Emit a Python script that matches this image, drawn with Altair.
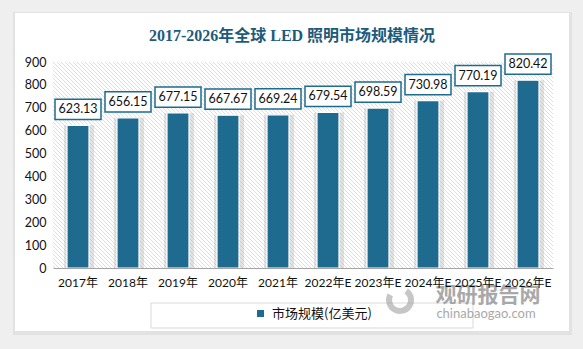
import altair as alt
import pandas as pd

# Global LED lighting market size, 2017-2026 (E = estimate), in 100 million USD
years = ["2017年", "2018年", "2019年", "2020年", "2021年",
         "2022年E", "2023年E", "2024年E", "2025年E", "2026年E"]
values = [623.13, 656.15, 677.15, 667.67, 669.24,
          679.54, 698.59, 730.98, 770.19, 820.42]
series_name = "市场规模(亿美元)"
title_text = "2017-2026年全球 LED 照明市场规模情况"

BAR = "#1f6b8f"
TITLE_COLOR = "#1d5b7b"
FONT = "Lato, Noto Sans CJK SC, sans-serif"
CJK = "Noto Sans CJK SC"

W, H = 500, 206  # plot area

df = pd.DataFrame({"year": years, "value": values, "series": series_name})

x_enc = alt.X("year:N", sort=None,
              scale=alt.Scale(paddingInner=0, paddingOuter=0),
              axis=alt.Axis(title=None, labelAngle=0, ticks=False, zindex=1,
                            domainColor="#a6a6a6", domainWidth=1,
                            labelFont=FONT, labelFontSize=12, labelColor="#111111",
                            labelPadding=9, labelOverlap=False, labelBound=False,
                            labelLimit=0))
y_enc = alt.Y("value:Q",
              scale=alt.Scale(domain=[0, 900], nice=False),
              axis=alt.Axis(title=None, values=list(range(0, 901, 100)), zindex=1,
                            grid=False, domain=False, ticks=False,
                            labelFont=FONT, labelFontSize=12.5, labelColor="#111111",
                            labelPadding=7))

one = pd.DataFrame({"k": [0]})

# page background card and its soft shadow
shadow_card = alt.Chart(one).mark_rect(color="#d9d9d9", opacity=0.6).encode(
    x=alt.value(-40), x2=alt.value(519), y=alt.value(-50), y2=alt.value(273))
card = alt.Chart(one).mark_rect(color="white").encode(
    x=alt.value(-38), x2=alt.value(516), y=alt.value(-49), y2=alt.value(269))

# diagonal hatch filling the plot area
step = 4
hatch_df = pd.DataFrame({"hx": [k * step for k in range(-H // step - 2, W // step + 2)]})
hatch_df["hx2"] = hatch_df["hx"] + H
hatch = alt.Chart(hatch_df).mark_rule(color="#dedede", strokeWidth=1, clip=True).encode(
    x=alt.X("hx:Q", scale=None, axis=None), x2="hx2:Q",
    y=alt.value(0), y2=alt.value(H))

# soft shadow behind each bar
bar_shadow = alt.Chart(df).mark_bar(width=30, color="#9a9a9a", opacity=0.28, xOffset=1).encode(
    x=x_enc, y=y_enc)

bars = alt.Chart(df).mark_bar(width=22, stroke="white", strokeWidth=1.2).encode(
    x=x_enc, y=y_enc,
    color=alt.Color("series:N", scale=alt.Scale(range=[BAR]),
                    legend=alt.Legend(title=None, orient="none",
                                      legendX=201, legendY=245, zindex=1,
                                      symbolType="square", symbolSize=49,
                                      symbolStrokeWidth=0,
                                      labelFont=CJK, labelFontSize=13,
                                      labelColor="#111111", labelOffset=5,
                                      padding=0)))

box_shape = "M-1,-0.44H1V0.44H-1Z"
label_box = alt.Chart(df).mark_point(shape=box_shape, size=46 * 46, filled=True,
                                     fill="white", stroke=BAR, strokeWidth=1.5,
                                     opacity=1, yOffset=-16).encode(
    x=x_enc, y=y_enc)
label_text = alt.Chart(df).mark_text(font=FONT, fontSize=12.5, color="#111111",
                                     baseline="middle", yOffset=-16).encode(
    x=x_enc, y=y_enc, text=alt.Text("value:Q", format=".2f"))

title = alt.Chart(one).mark_text(text=title_text,
                                 font="Liberation Serif, Noto Sans CJK SC",
                                 fontSize=16, fontWeight="bold", color=TITLE_COLOR,
                                 baseline="middle").encode(
    x=alt.value(239), y=alt.value(-26))

legend_frame = alt.Chart(one).mark_rect(fill="white", stroke="#d9d9d9",
                                        strokeWidth=1).encode(
    x=alt.value(98), x2=alt.value(420), y=alt.value(241), y2=alt.value(266))

wm_cn = alt.Chart(one).mark_text(text="观研报告网", font=CJK, fontSize=21,
                                 fontWeight="bold", color="#8c8c8c", opacity=0.75,
                                 baseline="middle").encode(
    x=alt.value(435), y=alt.value(234))
wm_en = alt.Chart(one).mark_text(text="chinabaogao.com", font=FONT, fontSize=13,
                                 color="#8c8c8c", opacity=0.75,
                                 baseline="middle").encode(
    x=alt.value(433), y=alt.value(252))
wm_logo = alt.Chart(one).mark_arc(innerRadius=8, outerRadius=14, color="#a0a0a0",
                                  opacity=0.6, theta=0.6, theta2=5.2).encode(
    x=alt.value(347), y=alt.value(238))

frame = alt.layer(shadow_card, card, legend_frame, hatch)
data_layers = alt.layer(bar_shadow, bars, label_box, label_text)
decor = alt.layer(title, wm_logo, wm_cn, wm_en)

chart = alt.layer(frame, data_layers, decor).resolve_scale(
    x="independent"
).properties(
    width=W, height=H,
    background="#efefef",
    padding={"left": 53, "top": 62, "right": 30, "bottom": 81},
    autosize=alt.AutoSizeParams(type="none"),
).configure_view(stroke=None)

chart.save("out.html", embed_options={"renderer": "svg", "actions": False})
